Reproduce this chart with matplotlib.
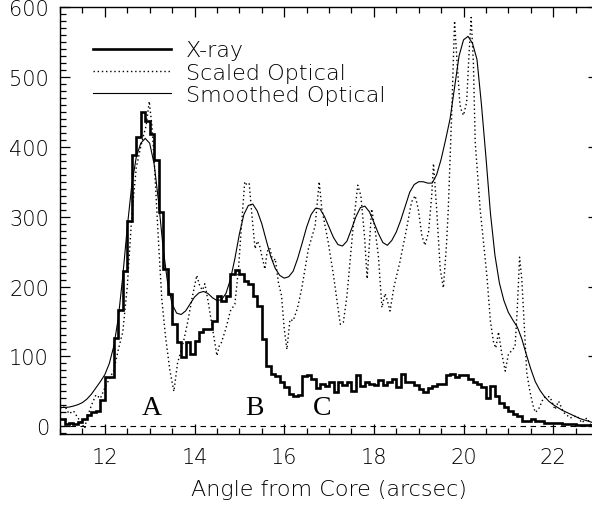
import numpy as np
import matplotlib
matplotlib.use('Agg')
import matplotlib.pyplot as plt
from matplotlib.ticker import MultipleLocator

plt.rcParams['font.family'] = ['DejaVu Sans']
plt.rcParams['font.weight'] = 'light'
plt.rcParams['axes.labelweight'] = 'light'

# X-ray counts in 0.1 arcsec bins starting at 11.0
XRAY_START = 11.0
XRAY_BIN = 0.1
xray = [10, 4, 5, 4, 6, 10, 16, 20, 22, 38,
        70, 70, 126, 167, 222, 294, 388, 414, 450, 437,
        418, 381, 307, 225, 190, 146, 120, 99, 120, 104,
        122, 135, 139, 139, 151, 187, 180, 187, 218, 224,
        218, 208, 204, 187, 172, 125, 87, 75, 72, 63,
        56, 46, 43, 45, 72, 73, 68, 55, 60, 58,
        63, 49, 63, 59, 63, 50, 73, 58, 63, 61,
        59, 66, 59, 63, 68, 56, 75, 63, 64, 59,
        54, 49, 55, 58, 61, 60, 73, 75, 71, 73,
        74, 68, 63, 60, 56, 40, 58, 44, 34, 27,
        22, 17, 15, 8, 8, 10, 7, 8, 5, 5,
        5, 5, 3, 4, 3, 2, 2, 2, 2, 2]

# scaled optical profile (dotted)
opt_x = [11.0, 11.1, 11.2, 11.3, 11.4, 11.5, 11.55, 11.6, 11.7, 11.8,
         11.9, 12.0, 12.1, 12.2, 12.3, 12.4, 12.5, 12.6, 12.7, 12.8,
         12.87, 12.92, 12.99, 13.05, 13.1, 13.2, 13.27, 13.35, 13.45, 13.54,
         13.62, 13.75, 13.85, 13.95, 14.05, 14.12, 14.18, 14.23, 14.3, 14.4,
         14.5, 14.55, 14.6, 14.7, 14.8, 14.9, 14.98, 15.05, 15.12, 15.17,
         15.22, 15.28, 15.35, 15.4, 15.45, 15.5, 15.57, 15.62, 15.68, 15.75,
         15.8, 15.87, 15.94, 16.0, 16.06, 16.13, 16.2, 16.3, 16.39, 16.54,
         16.69, 16.78, 16.84, 16.98, 17.1, 17.25, 17.32, 17.4, 17.54, 17.64,
         17.71, 17.79, 17.85, 17.95, 18.03, 18.1, 18.18, 18.25, 18.3, 18.36,
         18.45, 18.58, 18.73, 18.84, 18.92, 18.99, 19.07, 19.14, 19.22, 19.29,
         19.33, 19.4, 19.48, 19.55, 19.62, 19.66, 19.74, 19.8, 19.85, 19.92,
         19.96, 20.0, 20.07, 20.12, 20.17, 20.22, 20.26, 20.37, 20.52, 20.6,
         20.67, 20.72, 20.78, 20.85, 20.93, 21.0, 21.1, 21.15, 21.2, 21.25,
         21.3, 21.35, 21.41, 21.48, 21.55, 21.6, 21.67, 21.78, 21.85, 21.93,
         22.04, 22.12, 22.23, 22.38, 22.53, 22.64, 22.75, 22.86, 23.0]
opt_y = [25, 30, 18, 22, 12, 2, -3, 12, 30, 45,
         40, 55, 68, 80, 110, 135, 200, 300, 370, 400,
         418, 430, 465, 430, 380, 260, 182, 130, 80, 50,
         90, 120, 150, 185, 216, 200, 195, 204, 180, 140,
         101, 115, 120, 140, 165, 175, 225, 290, 350, 345,
         347, 302, 254, 265, 259, 244, 225, 250, 255, 235,
         240, 206, 187, 140, 110, 153, 151, 170, 197, 254,
         287, 350, 311, 264, 216, 146, 149, 187, 287, 345,
         330, 273, 211, 311, 280, 244, 170, 190, 180, 165,
         200, 235, 283, 321, 330, 311, 273, 259, 278, 330,
         376, 311, 225, 198, 260, 311, 455, 580, 527, 460,
         450, 445, 464, 530, 585, 520, 407, 311, 216, 150,
         120, 112, 135, 105, 79, 103, 110, 115, 170, 242,
         210, 150, 77, 50, 30, 20, 24, 40, 43, 42,
         24, 36, 20, 12, 15, 5, 12, 0, 2]

# smoothed optical profile (thin solid)
smooth_x = [11.0, 11.1, 11.2, 11.3, 11.4, 11.5, 11.6, 11.7, 11.8, 11.9,
            12.0, 12.1, 12.2, 12.3, 12.4, 12.5, 12.6, 12.7, 12.8, 12.9,
            13.0, 13.1, 13.2, 13.3, 13.4, 13.5, 13.6, 13.7, 13.8, 13.9,
            14.0, 14.1, 14.2, 14.3, 14.4, 14.5, 14.6, 14.7, 14.8, 14.9,
            15.0, 15.1, 15.2, 15.3, 15.4, 15.5, 15.6, 15.7, 15.8, 15.9,
            16.0, 16.1, 16.2, 16.3, 16.4, 16.5, 16.6, 16.7, 16.8, 16.9,
            17.0, 17.1, 17.2, 17.3, 17.4, 17.5, 17.6, 17.7, 17.8, 17.9,
            18.0, 18.1, 18.2, 18.3, 18.4, 18.5, 18.6, 18.7, 18.8, 18.9,
            19.0, 19.1, 19.2, 19.3, 19.4, 19.5, 19.6, 19.7, 19.8, 19.9,
            20.0, 20.1, 20.2, 20.3, 20.4, 20.5, 20.6, 20.7, 20.8, 20.9,
            21.0, 21.1, 21.2, 21.3, 21.4, 21.5, 21.6, 21.7, 21.8, 21.9,
            22.0, 22.1, 22.2, 22.3, 22.4, 22.5, 22.6, 22.7, 22.8, 22.9, 23.0]
smooth_y = [27, 27, 27.5, 29, 31, 34, 39, 46, 55, 64,
            74, 90, 115, 155, 215, 285, 345, 385, 405, 412,
            405, 375, 320, 255, 205, 175, 162, 160, 165, 175,
            185, 191, 193, 190, 184, 180, 181, 190, 210, 240,
            275, 303, 316, 318, 308, 290, 266, 243, 226, 216,
            212, 214, 222, 240, 262, 285, 303, 312, 311, 300,
            285, 270, 260, 258, 265, 282, 300, 313, 315, 307,
            292, 276, 263, 259, 266, 278, 295, 315, 335, 346,
            350, 350, 348, 348, 360, 382, 410, 440, 485, 530,
            553, 558, 548, 525, 460, 385, 305, 245, 205, 180,
            163, 152, 142, 125, 103, 82, 64, 52, 43, 36,
            31, 27, 23, 20, 17, 14, 11, 9, 7, 5, 4]

peak_names = ['A', 'B', 'C']
peak_x = [13.04, 15.33, 16.84]
peak_y = [27, 27, 27]

fig = plt.figure(figsize=(5.92, 5.06), dpi=100)
ax = fig.add_axes([0.1014, 0.1403, 0.9088, 0.8439])

edges = XRAY_START + XRAY_BIN * np.arange(len(xray) + 1)
ax.stairs(xray, edges, baseline=None, color='black', lw=1.9, label='X-ray')
ax.plot(opt_x, opt_y, color='black', lw=1.0, linestyle=(0, (1, 2)), label='Scaled Optical')
ax.plot(smooth_x, smooth_y, color='black', lw=0.8, label='Smoothed Optical')
ax.axhline(0, color='black', lw=0.8, linestyle=(0, (5, 4)))

for name, px, py in zip(peak_names, peak_x, peak_y):
    ax.text(px, py, name, family='Liberation Serif', fontsize=20,
            fontweight='normal', ha='center', va='center')

ax.set_xlim(11, 23)
ax.set_ylim(-11, 600)
ax.xaxis.set_major_locator(MultipleLocator(2))
ax.xaxis.set_minor_locator(MultipleLocator(0.5))
ax.yaxis.set_major_locator(MultipleLocator(100))
ax.yaxis.set_minor_locator(MultipleLocator(10))
ax.tick_params(which='both', direction='in', top=True, right=True, width=0.9)
ax.tick_params(which='major', length=7.5, labelsize=15)
ax.tick_params(which='minor', length=4)
ax.tick_params(axis='x', pad=9)
ax.tick_params(axis='y', pad=8)
for sp in ax.spines.values():
    sp.set_linewidth(1.0)

ax.set_xlabel('Angle from Core (arcsec)', fontsize=16, labelpad=9)

ax.legend(loc='upper left', bbox_to_anchor=(0.061, 0.922), frameon=False,
          fontsize=16, handlelength=3.5, handletextpad=0.7, labelspacing=0.1,
          borderpad=0, borderaxespad=0)

fig.savefig('out.png', dpi=100)
